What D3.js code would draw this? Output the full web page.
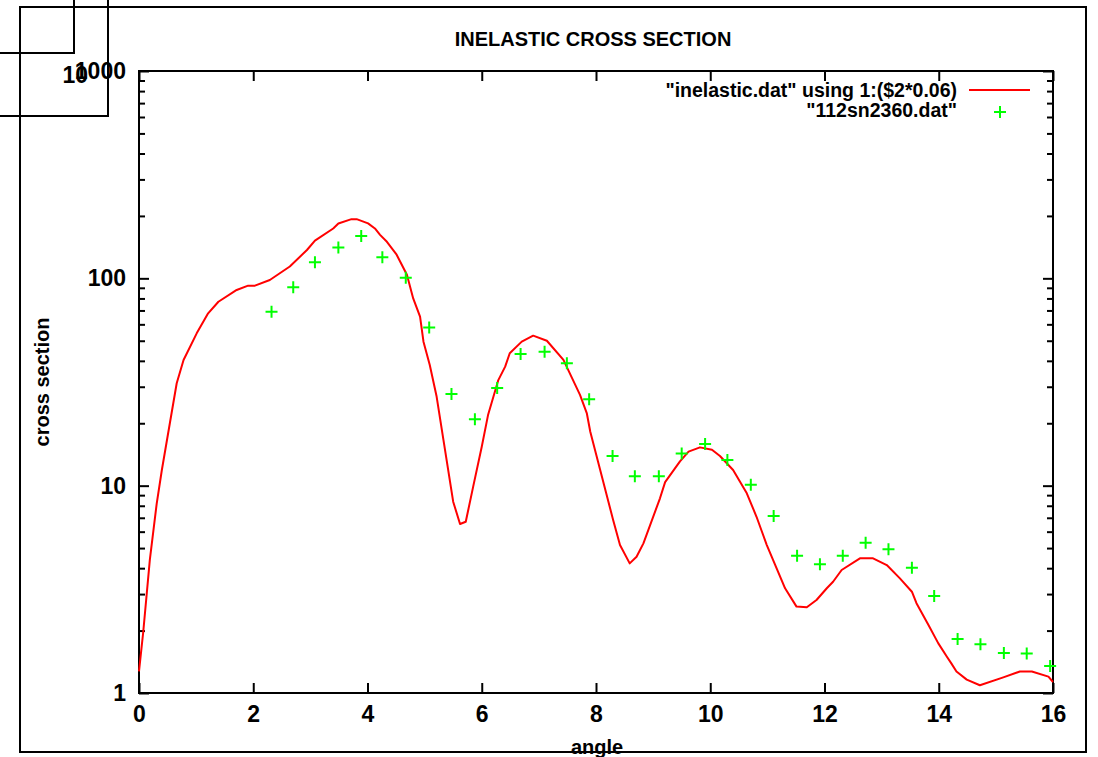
<!DOCTYPE html>
<html>
<head>
<meta charset="utf-8">
<script src="https://cdn.jsdelivr.net/npm/d3@7"></script>
<style>
html,body{margin:0;padding:0;background:#fff;}
svg{display:block;}
text{font-family:"Liberation Sans",Arial,sans-serif;font-weight:bold;fill:#000;}
</style>
</head>
<body>
<script>
// ---- data ----
const curveAngle = [0,0.075,0.19,0.31,0.40,0.54,0.66,0.78,1.01,1.21,1.39,1.71,1.91,2.03,2.29,2.64,2.94,3.08,3.40,3.49,3.72,3.81,4.01,4.13,4.22,4.34,4.51,4.69,4.80,4.92,4.98,5.09,5.21,5.33,5.50,5.62,5.72,5.85,6.00,6.11,6.29,6.41,6.49,6.70,6.90,7.14,7.43,7.72,7.84,7.90,8.07,8.30,8.42,8.59,8.71,8.83,9.12,9.21,9.47,9.62,9.82,10.03,10.17,10.40,10.64,10.81,10.99,11.31,11.51,11.69,11.86,12.04,12.15,12.30,12.62,12.85,13.09,13.32,13.53,13.61,13.82,13.99,14.14,14.22,14.31,14.49,14.72,15.13,15.42,15.63,15.92,16.0];
const curveValue = [1.27,1.98,4.4,8.2,11.9,20,31.2,40.4,54.3,67.8,77.1,87.9,92.2,92.2,98.2,114,137,152,174,184,193,193,184,174,162,150,130,104,80,65.3,49.5,38.2,26.9,16.6,8.37,6.53,6.70,9.89,15.4,21.9,32.3,37.5,43.5,49.5,52.9,50.0,40.4,27.4,22.3,18.2,12.0,6.83,5.17,4.22,4.54,5.27,8.69,10.4,13.1,14.6,15.3,14.9,13.9,11.9,9.19,7.08,5.17,3.20,2.61,2.59,2.81,3.20,3.44,3.92,4.46,4.46,4.14,3.57,3.08,2.71,2.13,1.74,1.50,1.39,1.27,1.16,1.09,1.19,1.27,1.27,1.20,1.13];
const expAngle = [2.32,2.70,3.08,3.49,3.89,4.26,4.67,5.08,5.47,5.88,6.27,6.68,7.10,7.49,7.88,8.29,8.68,9.10,9.50,9.91,10.30,10.71,11.11,11.52,11.92,12.32,12.72,13.12,13.53,13.92,14.33,14.73,15.14,15.54,15.95];
const expValue = [69.0,90.5,119.5,141,160,126.5,100.7,58.0,27.7,20.9,29.6,43.2,44.2,38.9,26.1,13.9,11.1,11.1,14.3,15.9,13.3,10.1,7.14,4.59,4.18,4.59,5.31,4.93,4.02,2.94,1.82,1.72,1.56,1.55,1.35];
const xTicks = [0,2,4,6,8,10,12,14,16];
const yMajorTicks = [1,10,100,1000];
const yMinorTicks = [2,3,4,5,6,7,8,9,20,30,40,50,60,70,80,90,200,300,400,500,600,700,800,900];
const title = "INELASTIC CROSS SECTION";
const xLabel = "angle";
const yLabel = "cross section";
const legendLabels = ['"inelastic.dat" using 1:($2*0.06)', '"112sn2360.dat"'];

// ---- layout ----
const W = 1098, H = 757;
const L = 139, R = 1053, T = 71, B = 693;
const svg = d3.select("body").append("svg").attr("width", W).attr("height", H);

const x = d3.scaleLinear().domain([0,16]).range([L,R]);
const y = d3.scaleLog().domain([1,1000]).range([B,T]);

// outer border & stray boxes
svg.append("rect").attr("x",20).attr("y",7).attr("width",1066).attr("height",745)
  .attr("fill","none").attr("stroke","#000").attr("stroke-width",2);
svg.append("path").attr("d","M74,0V53H0M108,0V116H0").attr("fill","none").attr("stroke","#000").attr("stroke-width",2);

// axes
const tickFont = g => g.selectAll("text").style("font-size","23px").style("font-family",'"Liberation Sans",Arial,sans-serif').style("font-weight","bold").attr("fill","#000");
const axStyle = g => { g.select(".domain").remove(); g.selectAll("line").attr("stroke","#000").attr("stroke-width",2); };

svg.append("g").attr("transform",`translate(0,${B})`)
  .call(d3.axisBottom(x).tickValues(xTicks).tickSizeInner(-10).tickSizeOuter(0).tickPadding(13).tickFormat(d3.format("d")))
  .call(axStyle).call(tickFont);
svg.append("g").attr("transform",`translate(0,${T})`)
  .call(d3.axisTop(x).tickValues(xTicks).tickSizeInner(-10).tickSizeOuter(0).tickFormat(""))
  .call(axStyle);
svg.append("g").attr("transform",`translate(${L},0)`)
  .call(d3.axisLeft(y).tickValues(yMajorTicks).tickSizeInner(-10).tickSizeOuter(0).tickPadding(13).tickFormat(d3.format("d")))
  .call(axStyle).call(tickFont);
svg.append("g").attr("transform",`translate(${L},0)`)
  .call(d3.axisLeft(y).tickValues(yMinorTicks).tickSizeInner(-6).tickSizeOuter(0).tickFormat(""))
  .call(axStyle);
svg.append("g").attr("transform",`translate(${R},0)`)
  .call(d3.axisRight(y).tickValues(yMajorTicks).tickSizeInner(-10).tickSizeOuter(0).tickFormat(""))
  .call(axStyle);
svg.append("g").attr("transform",`translate(${R},0)`)
  .call(d3.axisRight(y).tickValues(yMinorTicks).tickSizeInner(-6).tickSizeOuter(0).tickFormat(""))
  .call(axStyle);

// stray overlapping "10" label near top-left (as in reference)
svg.append("text").attr("x",88).attr("y",83).attr("text-anchor","end").style("font-size","23px").text("10");

// frame
svg.append("rect").attr("x",L).attr("y",T).attr("width",R-L).attr("height",B-T)
  .attr("fill","none").attr("stroke","#000").attr("stroke-width",2);

// curve
const curve = curveAngle.map((a,i)=>[a,curveValue[i]]);
svg.append("path").datum(curve)
  .attr("d", d3.line().x(d=>x(d[0])).y(d=>y(d[1])))
  .attr("fill","none").attr("stroke","#ff0000").attr("stroke-width",2).attr("stroke-linejoin","round");

// points
const pts = expAngle.map((a,i)=>[a,expValue[i]]);
const plus = (cx,cy) => `M${cx-6},${cy}H${cx+6}M${cx},${cy-6}V${cy+6}`;
svg.append("path")
  .attr("d", pts.map(d=>plus(x(d[0]),y(d[1]))).join(""))
  .attr("fill","none").attr("stroke","#00ff00").attr("stroke-width",2);

// title & labels
svg.append("text").attr("x",593).attr("y",46).attr("text-anchor","middle").style("font-size","20px").text(title);
svg.append("text").attr("x",597).attr("y",754).attr("text-anchor","middle").style("font-size","20px").text(xLabel);
svg.append("text").attr("transform","translate(49,382) rotate(-90)").attr("text-anchor","middle").style("font-size","20px").text(yLabel);

// legend
svg.append("text").attr("x",957).attr("y",97).attr("text-anchor","end").style("font-size","19.5px").text(legendLabels[0]);
svg.append("line").attr("x1",969).attr("x2",1030).attr("y1",90).attr("y2",90).attr("stroke","#ff0000").attr("stroke-width",2);
svg.append("text").attr("x",957).attr("y",117).attr("text-anchor","end").style("font-size","19.5px").text(legendLabels[1]);
svg.append("path").attr("d", plus(1000,112)).attr("stroke","#00ff00").attr("stroke-width",2);
</script>
</body>
</html>
